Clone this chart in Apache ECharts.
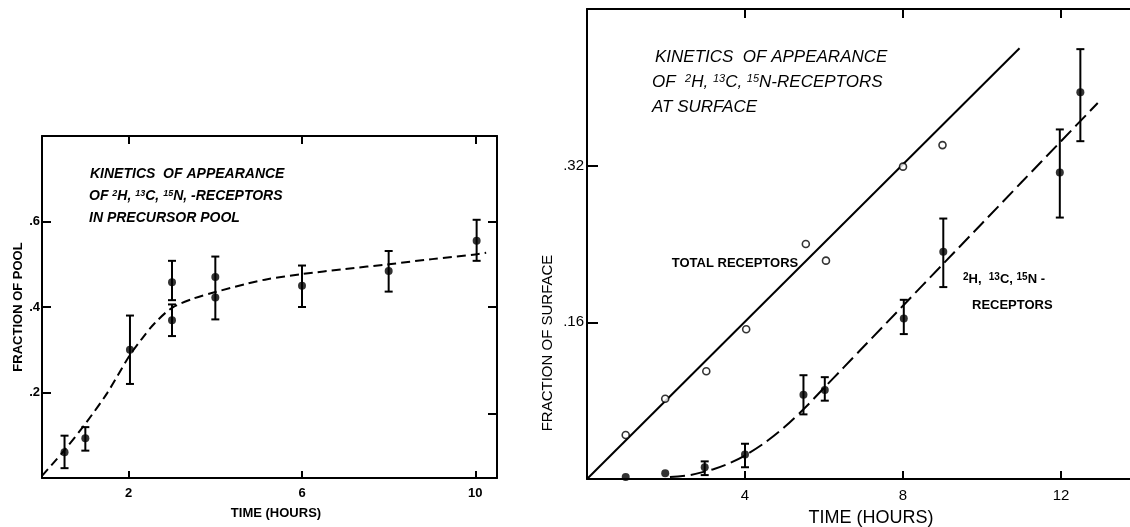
<!DOCTYPE html>
<html><head><meta charset="utf-8">
<script src="https://cdn.jsdelivr.net/npm/echarts@6/dist/echarts.min.js"></script>
<style>html,body{margin:0;padding:0;background:#fff}#c{width:1130px;height:527px}</style>
</head><body><div id="c"></div>
<script>
// ---------- Left panel: precursor pool ----------
const poolX      = [0.52, 1.0, 2.03, 3.0, 3.0, 4.0, 4.0, 6.0, 8.0, 10.03];
const poolY      = [0.060, 0.093, 0.300, 0.458, 0.369, 0.470, 0.422, 0.450, 0.484, 0.555];
const poolErrX   = [0.52, 1.0, 2.03, 3.0, 3.0, 4.0, 6.0, 8.0, 10.03];
const poolErrLo  = [0.023, 0.064, 0.220, 0.416, 0.332, 0.371, 0.400, 0.436, 0.508];
const poolErrHi  = [0.099, 0.119, 0.380, 0.508, 0.406, 0.518, 0.497, 0.531, 0.604];
const poolFitX   = [0, 0.5, 1, 1.5, 2, 2.3, 2.6, 3, 3.5, 4, 4.75, 5.2, 6, 7, 8, 9, 10, 10.25];
const poolFitY   = [0.005, 0.063, 0.127, 0.198, 0.283, 0.325, 0.362, 0.398, 0.420, 0.435, 0.455, 0.465, 0.477, 0.489, 0.500, 0.512, 0.523, 0.527];
const poolXTicks = [2, 6, 10];
const poolYTicks = [0.2, 0.4, 0.6];
const poolYRightTicks = [0.15, 0.4, 0.6];

// ---------- Right panel: surface ----------
const totalX    = [0.98, 1.98, 3.02, 4.03, 5.54, 6.05, 8.0, 9.0];
const totalY    = [0.045, 0.082, 0.110, 0.153, 0.240, 0.223, 0.319, 0.341];
const totalFitX = [0, 10.95];
const totalFitY = [0, 0.44];
const labX      = [0.98, 1.98, 2.98, 4.0, 5.48, 6.02, 8.02, 9.02, 11.97, 12.49];
const labY      = [0.002, 0.006, 0.012, 0.025, 0.086, 0.091, 0.164, 0.232, 0.313, 0.395];
const labErrX   = [2.98, 4.0, 5.48, 6.02, 8.02, 9.02, 11.97, 12.49];
const labErrLo  = [0.004, 0.012, 0.066, 0.080, 0.148, 0.196, 0.267, 0.345];
const labErrHi  = [0.018, 0.036, 0.106, 0.104, 0.183, 0.266, 0.357, 0.439];
const labFitX   = [2.1, 2.6, 3.2, 3.6, 4.0, 4.5, 5.0, 5.5, 6.0, 6.5, 7, 8, 9, 10, 11, 12, 12.93];
const labFitY   = [0.002, 0.004, 0.010, 0.016, 0.024, 0.037, 0.053, 0.072, 0.093, 0.114, 0.135, 0.177, 0.219, 0.261, 0.303, 0.345, 0.384];
const surfXTicks = [4, 8, 12];
const surfYTicks = [0.16, 0.32];

const FONT = '"Liberation Sans", Arial, sans-serif';
const zip = (a, b) => a.map((v, i) => [v, b[i]]);
const zip3 = (a, b, c) => a.map((v, i) => [v, b[i], c[i]]);

function errRender(params, api) {
  const x = api.value(0), lo = api.value(1), hi = api.value(2);
  const pLo = api.coord([x, lo]), pHi = api.coord([x, hi]);
  const w = 4;
  const st = { stroke: '#000', lineWidth: 2 };
  return { type: 'group', children: [
    { type: 'line', shape: { x1: pLo[0], y1: pLo[1], x2: pHi[0], y2: pHi[1] }, style: st },
    { type: 'line', shape: { x1: pLo[0] - w, y1: pLo[1], x2: pLo[0] + w, y2: pLo[1] }, style: st },
    { type: 'line', shape: { x1: pHi[0] - w, y1: pHi[1], x2: pHi[0] + w, y2: pHi[1] }, style: st }
  ]};
}

const axLine = { show: true, onZero: false, lineStyle: { color: '#000', width: 2 } };
const tickStyle = { color: '#000', width: 2 };
const noSplit = { show: false };
const fmtDot = d => v => v.toFixed(d).replace(/^0/, '');

const option = {
  animation: false,
  backgroundColor: '#fff',
  grid: [
    { left: 42, top: 136, width: 455, height: 342, outerBoundsMode: 'none', containLabel: false },
    { left: 587, top: 9, width: 553, height: 470, outerBoundsMode: 'none', containLabel: false }
  ],
  xAxis: [
    { gridIndex: 0, type: 'value', min: 0, max: 10.5, position: 'bottom', axisLine: axLine, splitLine: noSplit,
      axisTick: { inside: true, length: 7, customValues: poolXTicks, lineStyle: tickStyle },
      axisLabel: { customValues: poolXTicks, color: '#000', fontFamily: FONT, fontWeight: 'bold', fontSize: 13, margin: 9 },
      name: 'TIME (HOURS)', nameLocation: 'middle', nameGap: 29,
      nameTextStyle: { color: '#000', fontFamily: FONT, fontWeight: 'bold', fontSize: 13, padding: [0, 0, 0, 13] } },
    { gridIndex: 0, type: 'value', min: 0, max: 10.5, position: 'top', axisLine: axLine, splitLine: noSplit,
      axisTick: { inside: true, length: 8, customValues: poolXTicks, lineStyle: tickStyle },
      axisLabel: { show: false } },
    { gridIndex: 1, type: 'value', min: 0, max: 14, position: 'bottom', axisLine: axLine, splitLine: noSplit,
      axisTick: { inside: true, length: 8, customValues: surfXTicks, lineStyle: tickStyle },
      axisLabel: { customValues: surfXTicks, color: '#000', fontFamily: FONT, fontSize: 15, margin: 9 },
      name: 'TIME (HOURS)', nameLocation: 'middle', nameGap: 30,
      nameTextStyle: { color: '#000', fontFamily: FONT, fontSize: 18, padding: [0, 0, 0, 15] } },
    { gridIndex: 1, type: 'value', min: 0, max: 14, position: 'top', axisLine: axLine, splitLine: noSplit,
      axisTick: { inside: true, length: 9, customValues: surfXTicks, lineStyle: tickStyle },
      axisLabel: { show: false } }
  ],
  yAxis: [
    { gridIndex: 0, type: 'value', min: 0, max: 0.8, position: 'left', axisLine: axLine, splitLine: noSplit,
      axisTick: { inside: true, length: 9, customValues: poolYTicks, lineStyle: tickStyle },
      axisLabel: { customValues: poolYTicks, formatter: fmtDot(1), color: '#000', fontFamily: FONT, fontWeight: 'bold', fontSize: 13, margin: 2 },
      name: 'FRACTION OF POOL', nameLocation: 'middle', nameGap: 17, nameRotate: 90,
      nameTextStyle: { color: '#000', fontFamily: FONT, fontWeight: 'bold', fontSize: 13 } },
    { gridIndex: 0, type: 'value', min: 0, max: 0.8, position: 'right', axisLine: axLine, splitLine: noSplit,
      axisTick: { inside: true, length: 9, customValues: poolYRightTicks, lineStyle: tickStyle },
      axisLabel: { show: false } },
    { gridIndex: 1, type: 'value', min: 0, max: 0.48, interval: 0.16, position: 'left', axisLine: axLine, splitLine: noSplit,
      axisTick: { inside: true, length: 11, customValues: surfYTicks, lineStyle: tickStyle },
      axisLabel: { customValues: surfYTicks, formatter: fmtDot(2), color: '#000', fontFamily: FONT, fontSize: 15, margin: 3 } }
  ],
  series: [
    { type: 'line', xAxisIndex: 0, yAxisIndex: 0, data: zip(poolFitX, poolFitY), smooth: 0.3, symbol: 'none',
      lineStyle: { color: '#000', width: 2, type: [9, 5] }, z: 2 },
    { type: 'custom', xAxisIndex: 0, yAxisIndex: 0, data: zip3(poolErrX, poolErrLo, poolErrHi),
      encode: { x: 0, y: [1, 2] }, renderItem: errRender, z: 3 },
    { type: 'scatter', xAxisIndex: 0, yAxisIndex: 0, data: zip(poolX, poolY), symbol: 'circle', symbolSize: 8,
      itemStyle: { color: '#000' }, z: 4 },

    { type: 'line', xAxisIndex: 2, yAxisIndex: 2, data: zip(totalFitX, totalFitY), symbol: 'none',
      lineStyle: { color: '#000', width: 2 }, z: 2 },
    { type: 'line', xAxisIndex: 2, yAxisIndex: 2, data: zip(labFitX, labFitY), smooth: 0.3, symbol: 'none',
      lineStyle: { color: '#000', width: 2, type: [15, 6] }, z: 2 },
    { type: 'custom', xAxisIndex: 2, yAxisIndex: 2, data: zip3(labErrX, labErrLo, labErrHi),
      encode: { x: 0, y: [1, 2] }, renderItem: errRender, z: 3 },
    { type: 'scatter', xAxisIndex: 2, yAxisIndex: 2, data: zip(totalX, totalY), symbol: 'circle', symbolSize: 7,
      itemStyle: { color: '#fff', borderColor: '#000', borderWidth: 1.6 }, z: 4 },
    { type: 'scatter', xAxisIndex: 2, yAxisIndex: 2, data: zip(labX, labY), symbol: 'circle', symbolSize: 8,
      itemStyle: { color: '#000' }, z: 4 }
  ],
  graphic: [
    // left panel annotation
    { type: 'text', x: 90, y: 174, style: { text: 'KINETICS  OF APPEARANCE', font: 'italic bold 14px ' + FONT, fill: '#000', verticalAlign: 'middle' } },
    { type: 'text', x: 89, y: 196, style: { text: 'OF {s|2}H, {s|13}C, {s|15}N, -RECEPTORS', font: 'italic bold 14px ' + FONT, fill: '#000', verticalAlign: 'middle',
        rich: { s: { fontSize: 9, fontWeight: 'bold', fontStyle: 'italic', verticalAlign: 'top', fontFamily: FONT } } } },
    { type: 'text', x: 89, y: 218, style: { text: 'IN PRECURSOR POOL', font: 'italic bold 14px ' + FONT, fill: '#000', verticalAlign: 'middle' } },
    // right panel annotation
    { type: 'text', x: 655, y: 57, style: { text: 'KINETICS  OF APPEARANCE', font: 'italic 17px ' + FONT, fill: '#000', verticalAlign: 'middle' } },
    { type: 'text', x: 652, y: 82, style: { text: 'OF  {s|2}H, {s|13}C, {s|15}N-RECEPTORS', font: 'italic 17px ' + FONT, fill: '#000', verticalAlign: 'middle',
        rich: { s: { fontSize: 11, fontStyle: 'italic', verticalAlign: 'top', fontFamily: FONT } } } },
    { type: 'text', x: 652, y: 107, style: { text: 'AT SURFACE', font: 'italic 17px ' + FONT, fill: '#000', verticalAlign: 'middle' } },
    { type: 'text', x: 735, y: 263, style: { text: 'TOTAL RECEPTORS', font: 'bold 13px ' + FONT, fill: '#000', align: 'center', verticalAlign: 'middle' } },
    { type: 'text', x: 963, y: 279, style: { text: '{s|2}H,  {s|13}C, {s|15}N -', font: 'bold 13px ' + FONT, fill: '#000', verticalAlign: 'middle',
        rich: { s: { fontSize: 10, fontWeight: 'bold', verticalAlign: 'top', fontFamily: FONT } } } },
    { type: 'text', x: 972, y: 305, style: { text: 'RECEPTORS', font: 'bold 13px ' + FONT, fill: '#000', verticalAlign: 'middle' } },
    { type: 'text', x: 548, y: 343, rotation: Math.PI / 2, style: { text: 'FRACTION OF SURFACE', font: '15px ' + FONT, fill: '#000', align: 'center', verticalAlign: 'middle' } }
  ]
};

const chart = echarts.init(document.getElementById('c'), null, { renderer: 'canvas' });
chart.setOption(option);
</script>
</body></html>
